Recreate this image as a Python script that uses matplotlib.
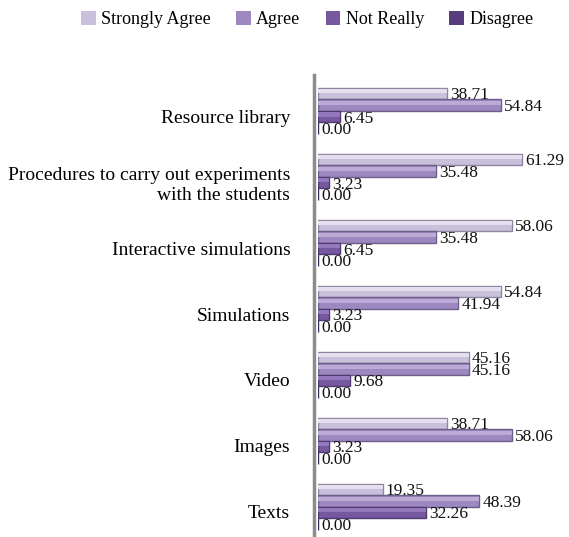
import matplotlib
matplotlib.use("Agg")
import matplotlib.pyplot as plt
import numpy as np
from matplotlib.patches import Patch

categories = ["Resource library",
              "Procedures to carry out experiments\nwith the students",
              "Interactive simulations", "Simulations", "Video", "Images", "Texts"]
series_names = ["Strongly Agree", "Agree", "Not Really", "Disagree"]
strongly_agree = [38.71, 61.29, 58.06, 54.84, 45.16, 38.71, 19.35]
agree = [54.84, 35.48, 35.48, 41.94, 45.16, 58.06, 48.39]
not_really = [6.45, 3.23, 6.45, 3.23, 9.68, 3.23, 32.26]
disagree = [0.00, 0.00, 0.00, 0.00, 0.00, 0.00, 0.00]
series = [strongly_agree, agree, not_really, disagree]

face = ["#C9C0DC", "#9D88C0", "#7658A0", "#573D7C"]
hilite = ["#E4DEEE", "#BBABD6", "#9478BC", "#7558A0"]
edge = ["#8E86A0", "#6E5E8C", "#4E3A70", "#3A2858"]

plt.rcParams['font.family'] = ['Liberation Serif', 'DejaVu Serif']
fig = plt.figure(figsize=(5.69, 5.37), dpi=100)
ax = fig.add_axes([0.559, 0.0, 0.41, 0.86])

n = len(categories)
y = np.arange(n)
h = 0.175
offsets = [-1.5 * h, -0.5 * h, 0.5 * h, 1.5 * h]
for i, vals in enumerate(series):
    pos = y + offsets[i] + 0.04
    ax.barh(pos, vals, height=h, color=face[i], edgecolor=edge[i], linewidth=1.0, zorder=2)
    ax.barh(pos - h * 0.18, vals, height=h * 0.35, color=hilite[i], linewidth=0, zorder=3)
    for p, v in zip(pos, vals):
        ax.text(v + 1.0, p + 0.03, f"{v:.2f}", va="center", ha="left", fontsize=12.5, color="#111111", zorder=4)

ax.set_ylim(n - 0.5, -0.5)
ax.set_xlim(0, 70)
ax.set_yticks(y + 0.12)
ax.set_yticklabels(categories, multialignment="center")
ax.tick_params(axis="y", length=0, pad=17, labelsize=14)
ax.set_xticks([])
for s in ["top", "right", "bottom"]:
    ax.spines[s].set_visible(False)
ax.spines["left"].set_color("#8C8C8C")
ax.spines["left"].set_linewidth(2.5)
ax.spines["left"].set_position(("outward", 3))
ax.patch.set_alpha(0)

handles = [Patch(facecolor=face[i], edgecolor="none") for i in range(4)]
fig.legend(handles, series_names, loc="upper center", bbox_to_anchor=(0.54, 1.01), ncol=4,
           frameon=False, fontsize=13, handlelength=0.8, handleheight=0.8,
           handletextpad=0.3, columnspacing=1.4)

fig.savefig("out.png", dpi=100)
